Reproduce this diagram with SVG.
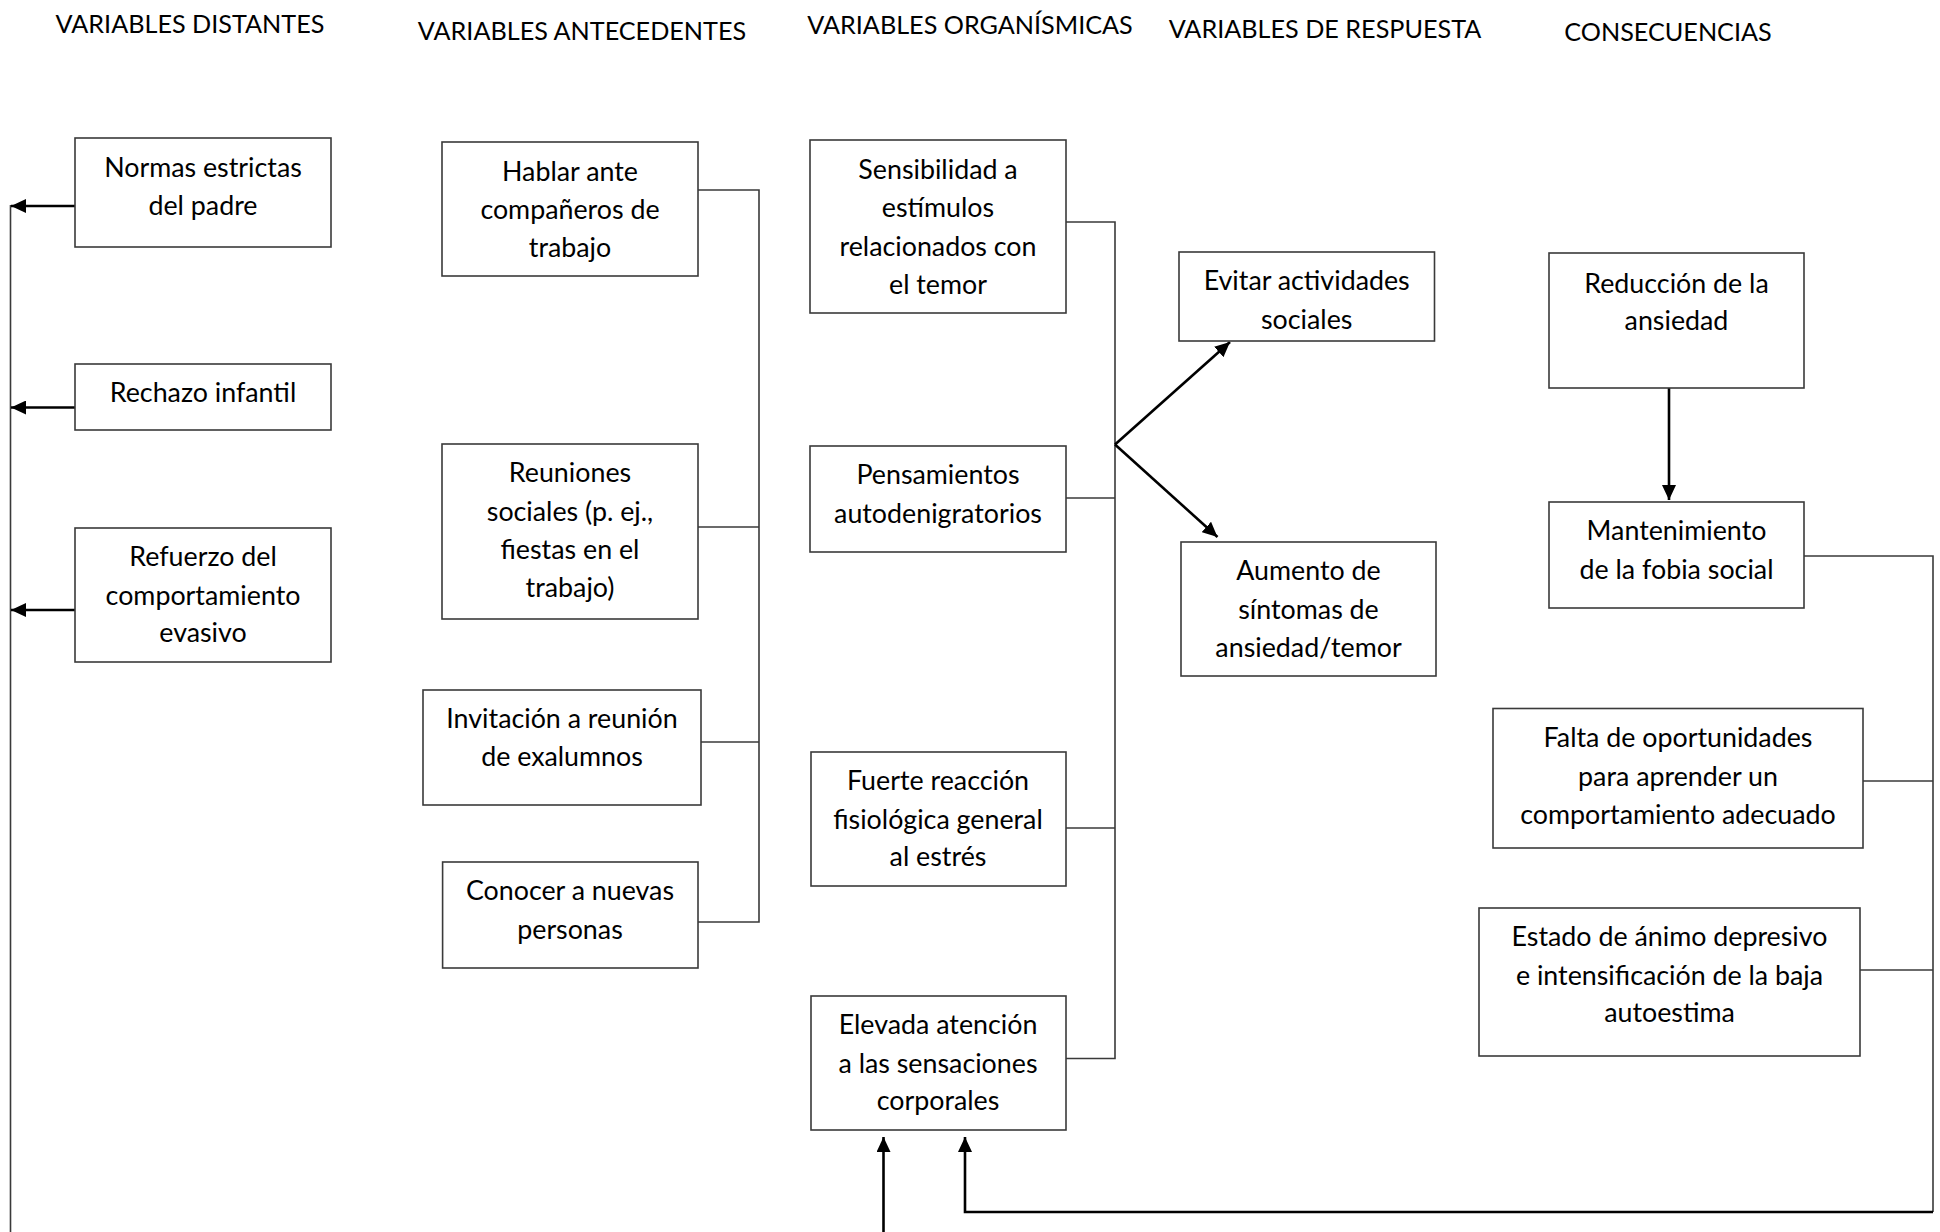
<svg xmlns="http://www.w3.org/2000/svg" width="1940" height="1232" viewBox="0 0 1940 1232">
  <style>
    .hdr { font-family: Lato, "Open Sans", "Liberation Sans", sans-serif; font-size: 25.2px; fill: #000; text-anchor: middle; }
    .box rect { fill: #fff; stroke: #3a3a3a; stroke-width: 1.6; }
    .box text { font-family: Lato, "Open Sans", "Liberation Sans", sans-serif; font-size: 26.8px; fill: #000; text-anchor: middle; }
    .thin { fill: none; stroke: #3a3a3a; stroke-width: 1.6; }
    .bold { fill: none; stroke: #000; stroke-width: 2.6; }
  </style>
  <defs>
    <marker id="head" viewBox="0 0 15 14" refX="15" refY="7" markerWidth="15" markerHeight="14" markerUnits="userSpaceOnUse" orient="auto">
      <path d="M0,0 L15,7 L0,14 Z" fill="#000"/>
    </marker>
  </defs>

  <rect width="1940" height="1232" fill="#fff"/>

  <!-- column headings -->
  <g id="headings">
    <text class="hdr" x="190" y="33">VARIABLES DISTANTES</text>
    <text class="hdr" x="582" y="40">VARIABLES ANTECEDENTES</text>
    <text class="hdr" x="970" y="34">VARIABLES ORGANÍSMICAS</text>
    <text class="hdr" x="1325" y="38">VARIABLES DE RESPUESTA</text>
    <text class="hdr" x="1668" y="41">CONSECUENCIAS</text>
  </g>

  <!-- connectors -->
  <g id="connectors">
    <!-- distant variables feed the long left return line -->
    <path class="thin" d="M10.5,205 V1232"/>
    <path class="bold" d="M75,206 H11" marker-end="url(#head)"/>
    <path class="bold" d="M75,407.5 H11" marker-end="url(#head)"/>
    <path class="bold" d="M75,610 H11" marker-end="url(#head)"/>

    <!-- antecedent bracket -->
    <path class="thin" d="M698,190 H759 V922 H698"/>
    <path class="thin" d="M698,527 H759"/>
    <path class="thin" d="M701,742 H759"/>

    <!-- organismic bracket -->
    <path class="thin" d="M1066,222 H1115 V1058.5 H1066"/>
    <path class="thin" d="M1066,498 H1115"/>
    <path class="thin" d="M1066,828 H1115"/>

    <!-- branch to responses -->
    <path class="bold" d="M1115,444.5 L1230,342" marker-end="url(#head)"/>
    <path class="bold" d="M1115,444.5 L1217.5,537" marker-end="url(#head)"/>

    <!-- consequences -->
    <path class="bold" d="M1669,388 V500" marker-end="url(#head)"/>
    <path class="thin" d="M1804,556 H1933 V1212"/>
    <path class="thin" d="M1863,781 H1933"/>
    <path class="thin" d="M1860,970 H1933"/>
    <path class="bold" d="M1933,1212 H965 V1137" marker-end="url(#head)"/>
    <path class="bold" d="M883.5,1232 V1137" marker-end="url(#head)"/>
  </g>

  <!-- distant variables -->
  <g id="normas" class="box">
    <rect x="75" y="138" width="256" height="109"/>
    <text x="203" y="177">Normas estrictas</text>
    <text x="203" y="215">del padre</text>
  </g>
  <g id="rechazo" class="box">
    <rect x="75" y="364" width="256" height="66"/>
    <text x="203" y="402">Rechazo infantil</text>
  </g>
  <g id="refuerzo" class="box">
    <rect x="75" y="528" width="256" height="134"/>
    <text x="203" y="566">Refuerzo del</text>
    <text x="203" y="605">comportamiento</text>
    <text x="203" y="642">evasivo</text>
  </g>

  <!-- antecedent variables -->
  <g id="hablar" class="box">
    <rect x="442" y="142" width="256" height="134"/>
    <text x="570" y="181">Hablar ante</text>
    <text x="570" y="219">compañeros de</text>
    <text x="570" y="257">trabajo</text>
  </g>
  <g id="reuniones" class="box">
    <rect x="442" y="444" width="256" height="175"/>
    <text x="570" y="482">Reuniones</text>
    <text x="570" y="521">sociales (p. ej.,</text>
    <text x="570" y="559">fiestas en el</text>
    <text x="570" y="597">trabajo)</text>
  </g>
  <g id="invitacion" class="box">
    <rect x="423" y="690" width="278" height="115"/>
    <text x="562" y="728">Invitación a reunión</text>
    <text x="562" y="766">de exalumnos</text>
  </g>
  <g id="conocer" class="box">
    <rect x="442.6" y="862" width="255.4" height="106"/>
    <text x="570" y="900">Conocer a nuevas</text>
    <text x="570" y="939">personas</text>
  </g>

  <!-- organismic variables -->
  <g id="sensibilidad" class="box">
    <rect x="810" y="140" width="256" height="173"/>
    <text x="938" y="178.5">Sensibilidad a</text>
    <text x="938" y="217">estímulos</text>
    <text x="938" y="256">relacionados con</text>
    <text x="938" y="294">el temor</text>
  </g>
  <g id="pensamientos" class="box">
    <rect x="810" y="446" width="256" height="106"/>
    <text x="938" y="484">Pensamientos</text>
    <text x="938" y="522.5">autodenigratorios</text>
  </g>
  <g id="fuerte" class="box">
    <rect x="811" y="752" width="255" height="134"/>
    <text x="938" y="790">Fuerte reacción</text>
    <text x="938" y="828.5">fisiológica general</text>
    <text x="938" y="866">al estrés</text>
  </g>
  <g id="elevada" class="box">
    <rect x="811" y="996" width="255" height="134"/>
    <text x="938" y="1034">Elevada atención</text>
    <text x="938" y="1072.5">a las sensaciones</text>
    <text x="938" y="1110">corporales</text>
  </g>

  <!-- response variables -->
  <g id="evitar" class="box">
    <rect x="1179" y="252" width="255.5" height="89"/>
    <text x="1306.7" y="290">Evitar actividades</text>
    <text x="1306.7" y="328.5">sociales</text>
  </g>
  <g id="aumento" class="box">
    <rect x="1181" y="542" width="255" height="134"/>
    <text x="1308.5" y="580">Aumento de</text>
    <text x="1308.5" y="618.5">síntomas de</text>
    <text x="1308.5" y="656.5">ansiedad/temor</text>
  </g>

  <!-- consequences -->
  <g id="reduccion" class="box">
    <rect x="1549" y="253" width="255" height="135"/>
    <text x="1676.5" y="293">Reducción de la</text>
    <text x="1676.5" y="330">ansiedad</text>
  </g>
  <g id="mantenimiento" class="box">
    <rect x="1549" y="502" width="255" height="106"/>
    <text x="1676.5" y="540">Mantenimiento</text>
    <text x="1676.5" y="579">de la fobia social</text>
  </g>
  <g id="falta" class="box">
    <rect x="1493" y="708.5" width="370" height="139.5"/>
    <text x="1678" y="747">Falta de oportunidades</text>
    <text x="1678" y="785.5">para aprender un</text>
    <text x="1678" y="824">comportamiento adecuado</text>
  </g>
  <g id="estado" class="box">
    <rect x="1479" y="908" width="381" height="148"/>
    <text x="1669.5" y="946">Estado de ánimo depresivo</text>
    <text x="1669.5" y="984.5">e intensificación de la baja</text>
    <text x="1669.5" y="1022">autoestima</text>
  </g>
</svg>
